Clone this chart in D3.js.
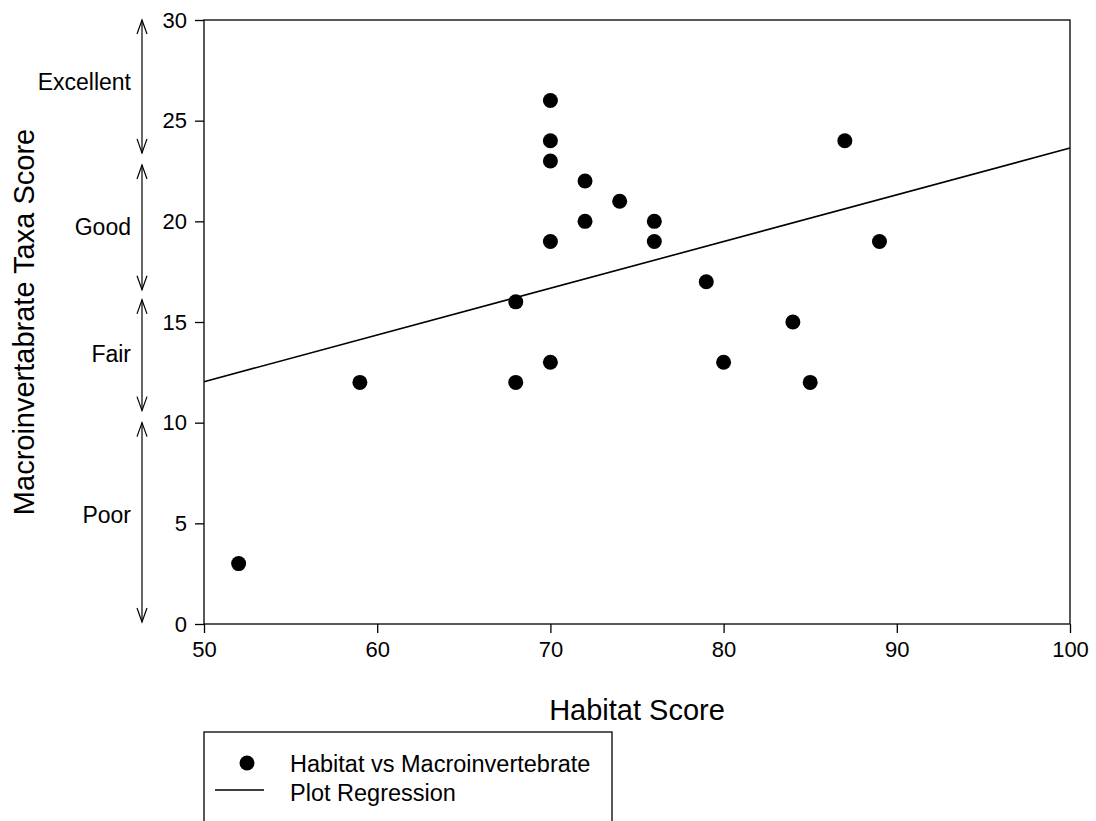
<!DOCTYPE html>
<html>
<head>
<meta charset="utf-8">
<script src="https://cdn.jsdelivr.net/npm/d3@7.9.0/dist/d3.min.js"></script>
<style>
  body { margin: 0; background: #fff; }
  svg { display: block; font-family: "Liberation Sans", Arial, sans-serif; }
</style>
</head>
<body>
<svg id="chart" width="1096" height="821"></svg>
<script>
// data
const habitat = [52, 59, 68, 68, 70, 70, 70, 70, 70, 72, 72, 74, 76, 76, 79, 80, 84, 85, 87, 89];
const taxa    = [3, 12, 16, 12, 26, 24, 23, 19, 13, 22, 20, 21, 20, 19, 17, 13, 15, 12, 24, 19];
const xTicks = [50, 60, 70, 80, 90, 100];
const yTicks = [0, 5, 10, 15, 20, 25, 30];
const bandNames = ["Excellent", "Good", "Fair", "Poor"];
const bandTop    = [30, 22.8, 16.1, 10.0];
const bandBottom = [23.4, 16.6, 10.6, 0.1];
const bandLabelAt = [26.9, 19.7, 13.4, 5.4];

const svg = d3.select("#chart");
const plotL = 204, plotR = 1070, plotT = 20, plotB = 624;

const x = d3.scaleLinear().domain([50, 100]).range([plotL, plotR]);
const y = d3.scaleLinear().domain([0, 30]).range([plotB, plotT]);

// frame
svg.append("rect")
  .attr("x", plotL).attr("y", plotT)
  .attr("width", plotR - plotL).attr("height", plotB - plotT)
  .attr("fill", "none").attr("stroke", "#000").attr("stroke-width", 1.3);

// axes
const xAxis = svg.append("g")
  .attr("transform", `translate(0,${plotB})`)
  .call(d3.axisBottom(x).tickValues(xTicks).tickSize(9).tickPadding(8));
const yAxis = svg.append("g")
  .attr("transform", `translate(${plotL},0)`)
  .call(d3.axisLeft(y).tickValues(yTicks).tickSize(9).tickPadding(8));
[xAxis, yAxis].forEach(g => {
  g.select(".domain").remove();
  g.selectAll("line").attr("stroke", "#000").attr("stroke-width", 1.3);
  g.selectAll("text").attr("font-size", 22).attr("fill", "#000")
    .attr("font-family", "'Liberation Sans', Arial, sans-serif");
});

// regression from the data
const mx = d3.mean(habitat), my = d3.mean(taxa);
const sxy = d3.sum(habitat, (h, i) => (h - mx) * (taxa[i] - my));
const sxx = d3.sum(habitat, h => (h - mx) * (h - mx));
const slope = sxy / sxx, icpt = my - slope * mx;
svg.append("line")
  .attr("x1", x(50)).attr("y1", y(icpt + slope * 50))
  .attr("x2", x(100)).attr("y2", y(icpt + slope * 100))
  .attr("stroke", "#000").attr("stroke-width", 1.6);

// points
svg.append("g").selectAll("circle")
  .data(habitat)
  .join("circle")
  .attr("cx", d => x(d))
  .attr("cy", (d, i) => y(taxa[i]))
  .attr("r", 7.5)
  .attr("fill", "#000");

// category arrows
const ax = 142;
const bands = svg.append("g").attr("stroke", "#000").attr("stroke-width", 1.2).attr("fill", "none");
bandNames.forEach((name, i) => {
  const y1 = y(bandTop[i]), y2 = y(bandBottom[i]);
  bands.append("line").attr("x1", ax).attr("x2", ax).attr("y1", y1).attr("y2", y2);
  bands.append("path").attr("d", `M${ax - 5},${y1 + 14}L${ax},${y1}L${ax + 5},${y1 + 14}`);
  bands.append("path").attr("d", `M${ax - 5},${y2 - 14}L${ax},${y2}L${ax + 5},${y2 - 14}`);
  svg.append("text")
    .attr("x", 131).attr("y", y(bandLabelAt[i]))
    .attr("text-anchor", "end").attr("dominant-baseline", "central")
    .attr("font-size", 23).text(name);
});

// axis titles
svg.append("text")
  .attr("x", (plotL + plotR) / 2).attr("y", 720)
  .attr("text-anchor", "middle").attr("font-size", 29)
  .text("Habitat Score");
svg.append("text")
  .attr("transform", `translate(34,${(plotT + plotB) / 2}) rotate(-90)`)
  .attr("text-anchor", "middle").attr("font-size", 29)
  .text("Macroinvertabrate Taxa Score");

// legend
const lg = svg.append("g");
lg.append("rect")
  .attr("x", 204).attr("y", 732).attr("width", 408).attr("height", 120)
  .attr("fill", "none").attr("stroke", "#000").attr("stroke-width", 1.3);
lg.append("circle").attr("cx", 247).attr("cy", 763).attr("r", 7.5).attr("fill", "#000");
lg.append("line").attr("x1", 215).attr("x2", 264).attr("y1", 790).attr("y2", 790)
  .attr("stroke", "#000").attr("stroke-width", 1.3);
lg.append("text").attr("x", 290).attr("y", 772).attr("font-size", 23.5).text("Habitat vs Macroinvertebrate");
lg.append("text").attr("x", 290).attr("y", 801).attr("font-size", 23.5).text("Plot Regression");
</script>
</body>
</html>
